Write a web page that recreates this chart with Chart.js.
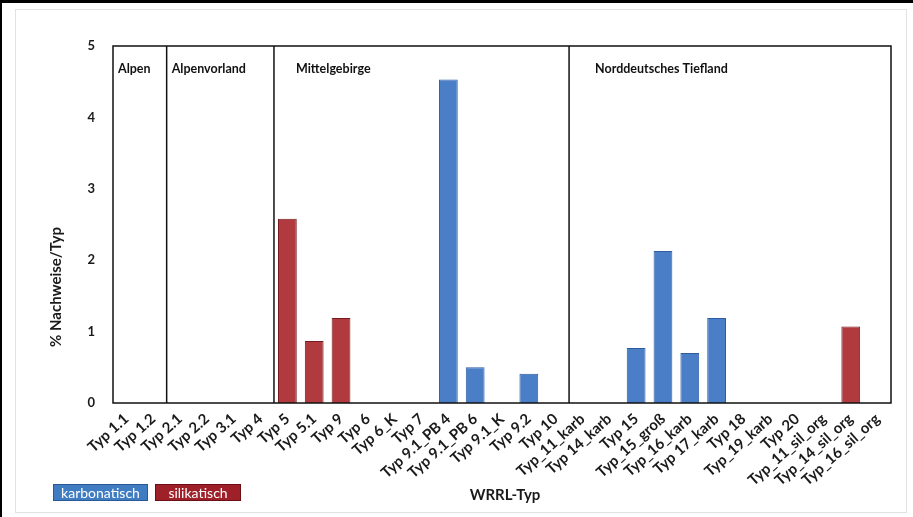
<!DOCTYPE html>
<html>
<head>
<meta charset="utf-8">
<script src="https://cdn.jsdelivr.net/npm/chart.js@4.4.1/dist/chart.umd.min.js"></script>
<style>
  html, body { margin: 0; padding: 0; background: #fff; }
  #wrap { position: relative; width: 913px; height: 517px; }
</style>
</head>
<body>
<div id="wrap"><canvas id="c"></canvas></div>
<script>
// ---- data ----
const categories = [
  'Typ 1.1', 'Typ 1.2', 'Typ 2.1', 'Typ 2.2', 'Typ 3.1', 'Typ 4',
  'Typ 5', 'Typ 5.1', 'Typ 9', 'Typ 6', 'Typ 6_K', 'Typ 7',
  'Typ 9.1_PB 4', 'Typ 9.1_PB 6', 'Typ 9.1_K', 'Typ 9.2', 'Typ 10',
  'Typ_11_karb', 'Typ 14_karb', 'Typ 15', 'Typ_15_groß', 'Typ_16_karb',
  'Typ 17_karb', 'Typ 18', 'Typ_19_karb', 'Typ 20',
  'Typ_11_sil_org', 'Typ_14_sil_org', 'Typ_16_sil_org'
];
const karbonatisch = [
  null, null, null, null, null, null,
  null, null, null, null, null, null,
  4.53, 0.50, null, 0.41, null,
  null, null, 0.77, 2.13, 0.70,
  1.19, null, null, null,
  null, null, null
];
const silikatisch = [
  null, null, null, null, null, null,
  2.58, 0.87, 1.19, null, null, null,
  null, null, null, null, null,
  null, null, null, null, null,
  null, null, null, null,
  null, 1.07, null
];
const yTicks = [0, 1, 2, 3, 4, 5];
const regionNames = ['Alpen', 'Alpenvorland', 'Mittelgebirge', 'Norddeutsches Tiefland'];
const regionStart = [0, 2, 6, 17]; // index of first category in each region
const seriesNames = ['karbonatisch', 'silikatisch'];

// ---- styles ----
const FONT = 'Lato, "Open Sans", sans-serif';
const BLUE = '#4a7ec6', BLUE_EDGE = '#2d5c9f';
const RED = '#b03a3e', RED_EDGE = '#761c20';

const decor = {
  id: 'decor',
  beforeDraw(chart) {
    const ctx = chart.ctx;
    ctx.save();
    ctx.strokeStyle = '#e2e2e2';
    ctx.lineWidth = 1;
    ctx.strokeRect(15.5, 9.5, 891, 503);
    ctx.fillStyle = '#000';
    ctx.fillRect(0, 0, 913, 3);
    ctx.fillRect(0, 0, 2, 517);
    ctx.restore();
  },
  afterDatasetsDraw(chart) {
    const ctx = chart.ctx;
    const a = chart.chartArea;
    const x = chart.scales.x;
    const step = (a.right - a.left) / categories.length;
    ctx.save();
    ctx.strokeStyle = '#111';
    ctx.lineWidth = 1.5;
    ctx.strokeRect(a.left, a.top, a.right - a.left, a.bottom - a.top);
    regionStart.forEach((s) => {
      if (s === 0) return;
      const xx = x.getPixelForValue(s) - step / 2;
      ctx.beginPath();
      ctx.moveTo(xx, a.top);
      ctx.lineTo(xx, a.bottom);
      ctx.stroke();
    });
    const offsets = [5, 5, 22, 26];
    ctx.fillStyle = '#111';
    ctx.font = 'bold 12.5px ' + FONT;
    ctx.textBaseline = 'middle';
    ctx.textAlign = 'left';
    regionNames.forEach((n, i) => {
      const xx = x.getPixelForValue(regionStart[i]) - step / 2 + offsets[i];
      ctx.fillText(n, xx, a.top + 23);
    });
    ctx.save();
    ctx.translate(56, 287);
    ctx.rotate(-Math.PI / 2);
    ctx.textAlign = 'center';
    ctx.font = 'bold 15px ' + FONT;
    ctx.fillStyle = '#1a1a1a';
    ctx.fillText('% Nachweise/Typ', 0, 0);
    ctx.restore();
    ctx.textAlign = 'center';
    ctx.font = 'bold 15px ' + FONT;
    ctx.fillStyle = '#1a1a1a';
    ctx.fillText('WRRL-Typ', 505, 495);
    const boxes = [
      { x: 53, w: 95, fill: '#3f7cc2', edge: '#2a5a96' },
      { x: 155, w: 86, fill: '#9e2028', edge: '#6a1015' }
    ];
    ctx.font = '14px ' + FONT;
    boxes.forEach((b, i) => {
      ctx.fillStyle = b.fill;
      ctx.fillRect(b.x, 484, b.w, 17);
      ctx.strokeStyle = b.edge;
      ctx.lineWidth = 1;
      ctx.strokeRect(b.x + 0.5, 484.5, b.w - 1, 16);
      ctx.fillStyle = '#fff';
      ctx.fillText(seriesNames[i], b.x + b.w / 2, 493);
    });
    ctx.restore();
  }
};

new Chart(document.getElementById('c'), {
  type: 'bar',
  data: {
    labels: categories,
    datasets: [
      { label: seriesNames[0], data: karbonatisch, backgroundColor: BLUE, borderColor: BLUE_EDGE,
        borderWidth: 1, grouped: false, barPercentage: 0.7, categoryPercentage: 1 },
      { label: seriesNames[1], data: silikatisch, backgroundColor: RED, borderColor: RED_EDGE,
        borderWidth: 1, grouped: false, barPercentage: 0.7, categoryPercentage: 1 }
    ]
  },
  options: {
    responsive: true,
    maintainAspectRatio: false,
    animation: false,
    layout: { padding: { top: 46, right: 22, bottom: 0, left: 0 } },
    plugins: { legend: { display: false }, tooltip: { enabled: false } },
    scales: {
      x: {
        offset: true,
        grid: { display: false, drawTicks: false },
        border: { display: false },
        ticks: {
          autoSkip: false, minRotation: 42, maxRotation: 42, padding: 7,
          color: '#1a1a1a', font: { family: FONT, size: 15, weight: 'bold' }
        },
        afterFit(s) { s.height = 114; }
      },
      y: {
        min: 0, max: 5,
        afterBuildTicks(s) { s.ticks = yTicks.map(v => ({ value: v })); },
        grid: { display: false, drawTicks: false },
        border: { display: false },
        ticks: { padding: 18, color: '#1a1a1a', font: { family: FONT, size: 13, weight: 'bold' } },
        afterFit(s) { s.width = 113; }
      }
    }
  },
  plugins: [decor]
});
</script>
</body>
</html>
